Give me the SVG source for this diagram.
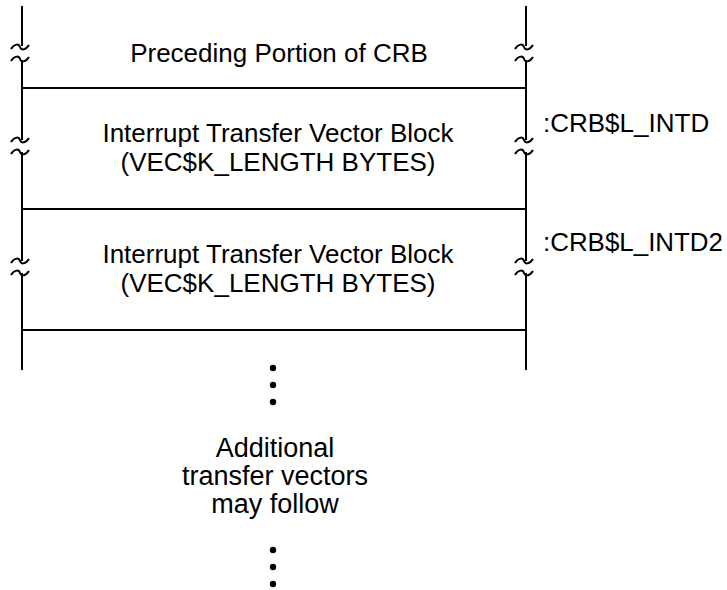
<svg xmlns="http://www.w3.org/2000/svg" width="727" height="590" viewBox="0 0 727 590">
<style>
.l{stroke:#000;stroke-width:2;fill:none}
.t{font-family:"Liberation Sans",Arial,sans-serif;font-size:26px;fill:#000}
.b{font-size:27px}
.c{text-anchor:middle}
</style>
<defs>
<path id="tl" d="M-9,2 C-5,-4 -1,-3 0,0 C1,3 5,4 9,-2" class="l"/>
</defs>
<rect width="727" height="590" fill="#fff"/>
<g id="connectors">
<path class="l" d="M22,6 V46 M22,60 V140 M22,152 V261 M22,273 V370"/>
<path class="l" d="M526,6 V46 M526,60 V140 M526,152 V261 M526,273 V370"/>
<path class="l" d="M22,88 H526 M22,209 H526 M22,330 H526"/>
<use href="#tl" x="20" y="47"/><use href="#tl" x="20" y="59"/>
<use href="#tl" x="524" y="47"/><use href="#tl" x="524" y="59"/>
<use href="#tl" x="20" y="140"/><use href="#tl" x="20" y="152"/>
<use href="#tl" x="524" y="140"/><use href="#tl" x="524" y="152"/>
<use href="#tl" x="20" y="261"/><use href="#tl" x="20" y="273"/>
<use href="#tl" x="524" y="261"/><use href="#tl" x="524" y="273"/>
</g>
<g id="block0"><text class="t c" x="279" y="62">Preceding Portion of CRB</text></g>
<g id="block1">
<text class="t c" x="278" y="142">Interrupt Transfer Vector Block</text>
<text class="t c" x="278" y="171">(VEC$K_LENGTH BYTES)</text>
</g>
<g id="block2">
<text class="t c" x="278" y="263">Interrupt Transfer Vector Block</text>
<text class="t c" x="278" y="292">(VEC$K_LENGTH BYTES)</text>
</g>
<g id="label1"><text class="t" x="543" y="132">:CRB$L_INTD</text></g>
<g id="label2"><text class="t" x="543" y="251" textLength="180" lengthAdjust="spacingAndGlyphs">:CRB$L_INTD2</text></g>
<g id="dots1"><circle cx="273" cy="368" r="3.2"/><circle cx="273" cy="385" r="3.2"/><circle cx="273" cy="402" r="3.2"/></g>
<g id="note">
<text class="t b c" x="275" y="457">Additional</text>
<text class="t b c" x="275" y="485">transfer vectors</text>
<text class="t b c" x="275" y="513">may follow</text>
</g>
<g id="dots2"><circle cx="273" cy="550" r="3.2"/><circle cx="273" cy="567" r="3.2"/><circle cx="273" cy="584" r="3.2"/></g>
</svg>
